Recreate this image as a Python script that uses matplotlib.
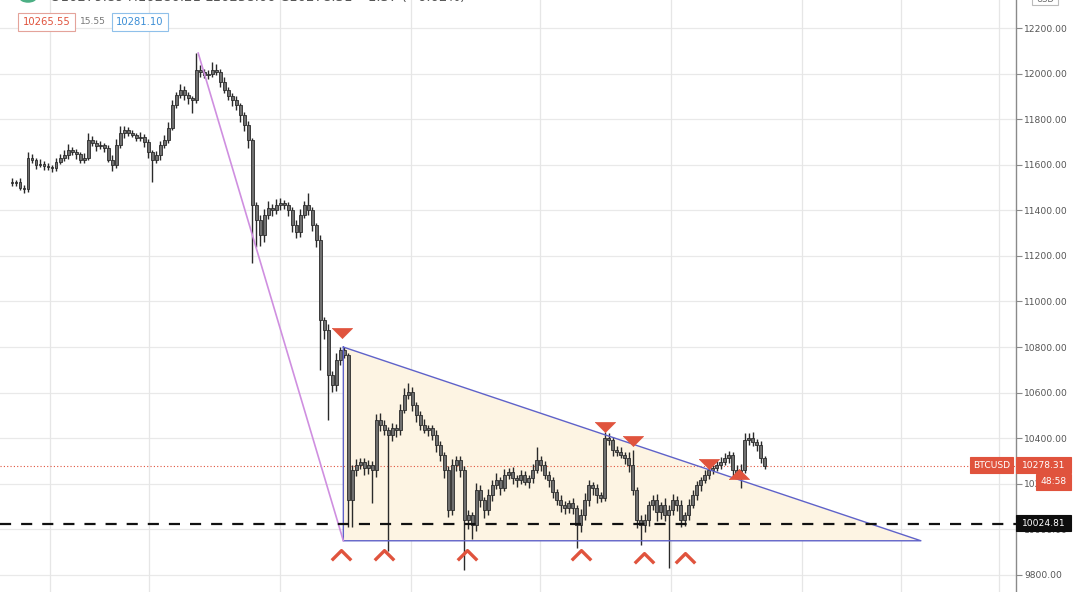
import matplotlib
matplotlib.use("Agg")
import matplotlib.pyplot as plt
import numpy as np
from matplotlib.path import Path
from matplotlib.markers import MarkerStyle
from matplotlib.patches import Polygon

# ---------------- data ----------------
closes = [
    11520, 11524, 11498, 11494, 11630, 11621, 11599, 11603, 11594, 11590,
    11586, 11612, 11630, 11643, 11665, 11656, 11647, 11621, 11630, 11709,
    11695, 11682, 11687, 11673, 11621, 11599, 11687, 11739, 11752, 11739,
    11730, 11717, 11722, 11700, 11656, 11621, 11643, 11687, 11709, 11761,
    11862, 11906, 11928, 11906, 11893, 11884, 12016, 12007, 11994, 11998,
    12016, 12007, 11963, 11928, 11902, 11884, 11862, 11818, 11774, 11709,
    11423, 11358, 11292, 11380, 11410, 11401, 11423, 11432, 11423, 11401,
    11336, 11305, 11380, 11423, 11401, 11336, 11270, 10919, 10875, 10677,
    10634, 10743, 10787, 10765, 10129, 10261, 10283, 10296, 10269, 10283,
    10261, 10480, 10458, 10436, 10414, 10445, 10436, 10524, 10590, 10603,
    10546, 10502, 10458, 10436, 10445, 10414, 10370, 10326, 10261, 10085,
    10283, 10304, 10261, 10041, 10063, 10019, 10173, 10129, 10085, 10151,
    10195, 10217, 10182, 10239, 10252, 10225, 10217, 10239, 10208, 10225,
    10261, 10304, 10283, 10239, 10217, 10164, 10129, 10107, 10094, 10116,
    10094, 10019, 10063, 10129, 10195, 10182, 10151, 10138, 10401, 10392,
    10348, 10340, 10326, 10313, 10283, 10173, 10041, 10019, 10041, 10107,
    10129, 10076, 10107, 10063, 10085, 10129, 10107, 10041, 10063, 10107,
    10151, 10195, 10217, 10239, 10261, 10269, 10283, 10296, 10313, 10326,
    10261, 10239, 10261, 10392, 10401, 10383, 10370, 10313, 10278.31,
]
first_open = 11525

wick_up = [
    15, 10, 20, 12, 25, 18, 10, 22, 15, 12,
    10, 18, 15, 20, 25, 12, 15, 10, 20, 30,
    15, 12, 18, 10, 15, 20, 25, 30, 18, 12,
    15, 10, 20, 12, 15, 10, 18, 15, 20, 25,
    20, 15, 25, 18, 12, 10, 74, 20, 15, 18,
    35, 25, 15, 20, 12, 15, 18, 10, 15, 20,
    10, 15, 20, 25, 30, 18, 25, 20, 15, 12,
    15, 20, 25, 18, 53, 15, 10, 20, 15, 25,
    20, 30, 15, 13, 10, 20, 25, 15, 18, 20,
    15, 25, 30, 20, 15, 22, 18, 25, 30, 39,
    20, 15, 18, 25, 12, 15, 20, 18, 12, 15,
    25, 20, 18, 15, 20, 12, 30, 20, 15, 25,
    20, 30, 15, 25, 18, 20, 15, 22, 18, 15,
    25, 57, 20, 15, 18, 12, 15, 20, 18, 15,
    20, 15, 25, 30, 20, 15, 18, 12, 26, 20,
    15, 18, 20, 15, 25, 65, 15, 20, 25, 18,
    20, 25, 15, 30, 20, 25, 18, 20, 15, 25,
    20, 18, 15, 20, 25, 15, 18, 20, 22, 20,
    15, 20, 25, 30, 20, 25, 15, 18, 10,
]
wick_dn = [
    15, 12, 10, 20, 15, 12, 18, 10, 15, 12,
    20, 15, 10, 12, 18, 15, 20, 12, 15, 10,
    12, 20, 15, 18, 10, 25, 15, 12, 20, 15,
    10, 15, 12, 20, 25, 97, 15, 20, 12, 15,
    10, 15, 12, 20, 25, 55, 15, 20, 12, 18,
    15, 12, 20, 15, 18, 25, 20, 30, 25, 35,
    254, 119, 50, 30, 20, 25, 15, 20, 18, 25,
    30, 25, 20, 15, 20, 25, 30, 220, 40, 197,
    30, 25, 20, 15, 119, 120, 25, 20, 30, 25,
    145, 30, 25, 20, 509, 25, 30, 20, 15, 20,
    25, 30, 20, 15, 25, 20, 30, 25, 35, 30,
    20, 25, 30, 219, 40, 60, 25, 30, 35, 20,
    25, 20, 30, 15, 20, 25, 30, 20, 15, 25,
    20, 15, 25, 20, 30, 25, 20, 30, 25, 20,
    25, 100, 30, 20, 25, 30, 35, 20, 15, 20,
    25, 20, 15, 25, 30, 20, 35, 88, 30, 25,
    20, 40, 30, 25, 233, 20, 25, 30, 25, 20,
    15, 20, 25, 15, 20, 18, 15, 20, 15, 20,
    25, 20, 57, 15, 20, 18, 25, 20, 15,
]

price_ticks = [9800, 10000, 10200, 10400, 10600, 10800, 11000,
               11200, 11400, 11600, 11800, 12000, 12200]
day_lines = [9.5, 34.25, 67, 99.75, 131.75, 164.5, 197.25, 222, 246.5]

# drawings: (bar index, price)
triangle = [(82.75, 10800), (82.75, 9950), (227.0, 9950)]
trend_line = [(46.5, 12090), (82.75, 9950)]
sell_marks = [(82.5, 10862), (148.0, 10449), (155.0, 10388), (174.0, 10287)]
buy_mark = [(181.5, 10243)]
low_marks = [(82.25, 9888), (93.0, 9888), (113.75, 9888),
             (142.0, 9888), (157.75, 9875), (168.0, 9875)]

last_price = 10278.31
support_level = 10024.81

# ---------------- figure ----------------
W, H = 1080, 592
fig = plt.figure(figsize=(W / 100, H / 100), dpi=100)
fig.patch.set_facecolor("white")
ax = fig.add_axes([0, 0, 1016 / W, 1])
ax.set_facecolor("white")

n = len(closes)
idx = np.arange(n)
c = np.array(closes, dtype=float)
o = np.concatenate([[first_open], c[:-1]])
hi = np.maximum(o, c) + np.array(wick_up)
lo = np.minimum(o, c) - np.array(wick_dn)

ax.set_xlim(-3, 250.75)
ax.set_ylim(9725.2, 12322.9)

# grid
for p in price_ticks:
    ax.axhline(p, color="#e9e9e9", lw=0.9, zorder=0)
for d in day_lines:
    ax.axvline(d, color="#e6e6e6", lw=0.9, zorder=0)

# triangle fill and outline
tri = Polygon(triangle, closed=True, facecolor="#fdf4e3", edgecolor="none", zorder=1)
ax.add_patch(tri)
tx = [pt[0] for pt in triangle] + [triangle[0][0]]
ty = [pt[1] for pt in triangle] + [triangle[0][1]]
ax.plot(tx, ty, color="#5f62c9", lw=1.0, zorder=4)

# trend line
ax.plot([trend_line[0][0], trend_line[1][0]], [trend_line[0][1], trend_line[1][1]],
        color="#cf8fe0", lw=1.2, zorder=4)

# last price and support
ax.axhline(last_price, color="#e0533d", lw=0.8, ls=(0, (1, 2)), zorder=2)
ax.axhline(support_level, color="#111111", lw=1.6, ls=(0, (5, 4.5)), zorder=5)

# candles
ax.vlines(idx, lo, hi, color="#2a2a2a", lw=1.0, zorder=3)
body_bottom = np.minimum(o, c)
body_h = np.maximum(np.abs(c - o), 4)
ax.bar(idx, body_h, bottom=body_bottom, width=0.72, color="#6f6f6f",
       edgecolor="#2a2a2a", linewidth=0.6, zorder=3)

# arrow markers
red = "#e0533d"
down_tri = MarkerStyle(Path([(-1, 0.5), (1, 0.5), (0, -0.5), (-1, 0.5)]))
up_tri = MarkerStyle(Path([(-1, -0.5), (1, -0.5), (0, 0.5), (-1, -0.5)]))
chev = MarkerStyle(Path([(-1, -0.5), (0, 0.5), (1, -0.5)],
                        [Path.MOVETO, Path.LINETO, Path.LINETO]), fillstyle="none")
ax.plot([m[0] for m in sell_marks], [m[1] for m in sell_marks], ls="none",
        marker=down_tri, ms=14.5, mfc=red, mec=red, mew=0.5, zorder=6)
ax.plot([m[0] for m in buy_mark], [m[1] for m in buy_mark], ls="none",
        marker=up_tri, ms=14.5, mfc=red, mec=red, mew=0.5, zorder=6)
ax.plot([m[0] for m in low_marks], [m[1] for m in low_marks], ls="none",
        marker=chev, ms=14, mfc="none", mec=red, mew=2.4, zorder=6)

# price axis on the right
for s in ["top", "left", "bottom"]:
    ax.spines[s].set_visible(False)
ax.spines["right"].set_color("#8a8a8a")
ax.spines["right"].set_linewidth(1.0)
ax.yaxis.tick_right()
ax.set_yticks(price_ticks)
ax.set_yticklabels([f"{p:.2f}" for p in price_ticks])
ax.tick_params(axis="y", length=4, width=0.8, color="#8a8a8a", pad=2,
               labelsize=6.6, labelcolor="#555555")
ax.set_xticks([])

# price labels on the axis
def px(x):
    return x / W

def py(y):
    return 1 - y / H

def tag(x0, x1, y0, y1, text, fc, tc="white", size=6.6, ec=None):
    fig.patches.append(matplotlib.patches.Rectangle(
        (px(x0), py(y1)), px(x1) - px(x0), py(y0) - py(y1),
        transform=fig.transFigure, facecolor=fc,
        edgecolor=ec if ec else fc, lw=0.8, zorder=8))
    fig.text(px((x0 + x1) / 2), py((y0 + y1) / 2), text, color=tc, fontsize=size,
             ha="center", va="center", zorder=9)

tag(970, 1013, 457, 473, "BTCUSD", red)
tag(1016, 1071, 457, 473, f"{last_price:.2f}", red)
tag(1036, 1071, 474, 490, "48:58", red)
tag(1016, 1071, 515, 531, f"{support_level:.2f}", "#0d0d0d")
tag(1032, 1058, -6, 5, "USD", "white", tc="#666666", size=6.0, ec="#bbbbbb")

# legend header
fig.text(px(50), py(-3), "O10279.89 H10280.21 L10258.00 C10278.31 \u22121.37 (\u22120.02%)",
         fontsize=9.5, color="#555555", ha="left", va="center")
fig.patches.append(matplotlib.patches.Circle((px(28), py(-2)), 0.008,
                                             transform=fig.transFigure,
                                             facecolor="#4caf84", zorder=8))
tag(18, 75, 13, 31, "10265.55", "white", tc=red, size=7.2, ec="#e4a39a")
fig.text(px(93), py(22), "15.55", fontsize=6.6, color="#777777", ha="center", va="center")
tag(112, 168, 13, 31, "10281.10", "white", tc="#3d8fd6", size=7.2, ec="#8fc0ea")

fig.savefig("out.png", dpi=100, facecolor="white")
